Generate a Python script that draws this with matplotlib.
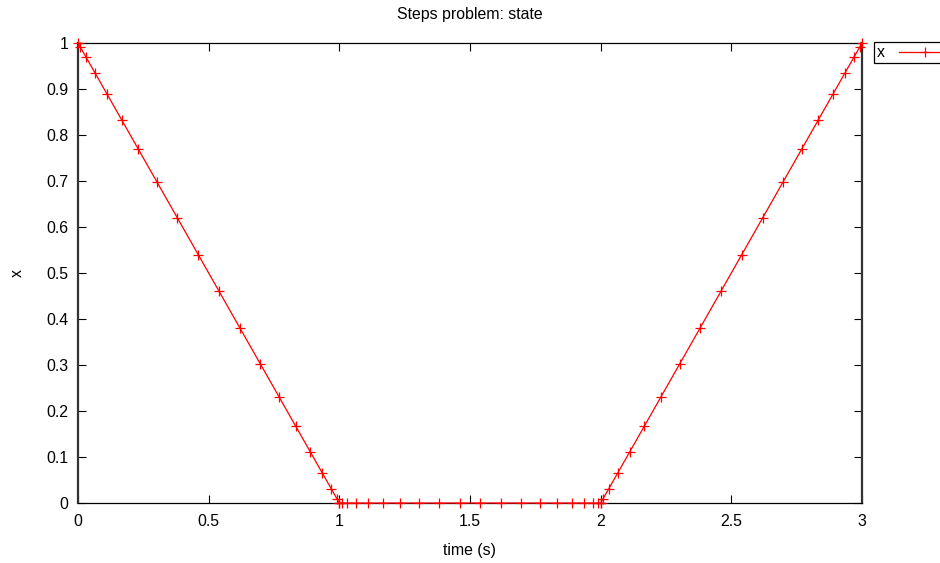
import matplotlib
matplotlib.use("Agg")
import matplotlib.pyplot as plt

# ---- data ----
t_phase1 = [0.0, 0.009, 0.031, 0.065, 0.111, 0.167, 0.231, 0.303, 0.380, 0.460,
            0.540, 0.620, 0.697, 0.769, 0.833, 0.889, 0.935, 0.969, 0.991, 1.0]
x_phase1 = [1.0, 0.991, 0.969, 0.935, 0.889, 0.833, 0.769, 0.697, 0.620, 0.540,
            0.460, 0.380, 0.303, 0.231, 0.167, 0.111, 0.065, 0.031, 0.009, 0.0]
t_phase2 = [1.0, 1.009, 1.031, 1.065, 1.111, 1.167, 1.231, 1.303, 1.380, 1.460,
            1.540, 1.620, 1.697, 1.769, 1.833, 1.889, 1.935, 1.969, 1.991, 2.0]
x_phase2 = [0.0] * 20
t_phase3 = [2.0, 2.009, 2.031, 2.065, 2.111, 2.167, 2.231, 2.303, 2.380, 2.460,
            2.540, 2.620, 2.697, 2.769, 2.833, 2.889, 2.935, 2.969, 2.991, 3.0]
x_phase3 = [0.0, 0.009, 0.031, 0.065, 0.111, 0.167, 0.231, 0.303, 0.380, 0.460,
            0.540, 0.620, 0.697, 0.769, 0.833, 0.889, 0.935, 0.969, 0.991, 1.0]

x_ticks = [0, 0.5, 1, 1.5, 2, 2.5, 3]
x_tick_labels = ["0", "0.5", "1", "1.5", "2", "2.5", "3"]
y_ticks = [0, 0.1, 0.2, 0.3, 0.4, 0.5, 0.6, 0.7, 0.8, 0.9, 1]
y_tick_labels = ["0", "0.1", "0.2", "0.3", "0.4", "0.5", "0.6", "0.7", "0.8", "0.9", "1"]

title = "Steps problem: state"
xlabel = "time (s)"
ylabel = "x"
series_label = "x"

plt.rcParams['font.family'] = ['Liberation Sans', 'DejaVu Sans']
FS = 11.4

fig = plt.figure(figsize=(9.4, 5.63), dpi=100)
W, H = 940, 563
left, right, top, bottom = 78, 862, 43, 503
ax = fig.add_axes([left / W, 1 - bottom / H, (right - left) / W, (bottom - top) / H])

t_all = t_phase1 + t_phase2 + t_phase3
x_all = x_phase1 + x_phase2 + x_phase3
line, = ax.plot(t_all, x_all, color='#ff0000', lw=0.9, marker='+',
                markersize=7.5, markeredgewidth=0.9, label=series_label,
                clip_on=False, zorder=3)

ax.set_xlim(0, 3)
ax.set_ylim(0, 1)
ax.set_xticks(x_ticks)
ax.set_xticklabels(x_tick_labels, fontsize=FS)
ax.set_yticks(y_ticks)
ax.set_yticklabels(y_tick_labels, fontsize=FS)
ax.tick_params(direction='in', length=6, width=0.8, top=True, right=True,
               color='black')
ax.tick_params(axis='y', pad=7)
ax.tick_params(axis='x', pad=8)
for s in ['top', 'bottom']:
    ax.spines[s].set_linewidth(0.9)
for s in ['left', 'right']:
    ax.spines[s].set_linewidth(1.6)
    ax.spines[s].set_color('#333333')

ax.set_title(title, fontsize=FS, pad=17)
ax.set_xlabel(xlabel, fontsize=FS, labelpad=10)
ax.set_ylabel(ylabel, fontsize=FS, labelpad=15)

leg = fig.legend(handles=[line], loc='upper left',
                 bbox_to_anchor=(874 / W, 1 - 42 / H),
                 fontsize=FS, markerfirst=False, handlelength=3.2,
                 handletextpad=0.9, borderpad=0.2, borderaxespad=0,
                 fancybox=False, framealpha=1, edgecolor='black')
leg.get_frame().set_linewidth(0.9)

fig.savefig("out.png", dpi=100)
